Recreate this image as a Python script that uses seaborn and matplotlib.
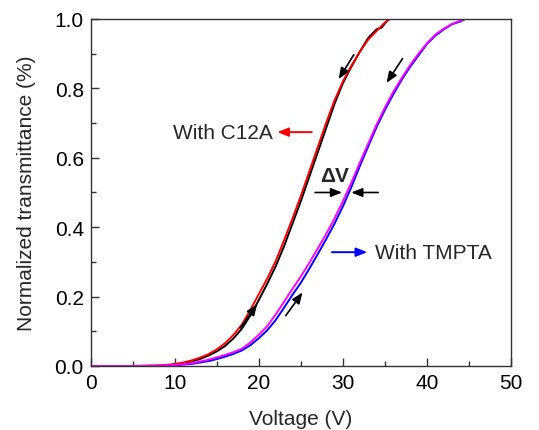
import matplotlib
matplotlib.use("Agg")
import matplotlib.pyplot as plt
import seaborn as sns
import pandas as pd

# ---------------- data ----------------
c12a_up_v = [0, 5, 8, 9, 10, 11, 12, 13, 14, 15, 16, 17, 18, 19, 20, 21, 22, 23, 24, 25,
             26, 27, 28, 29, 30, 31, 32, 33, 34, 34.6, 35.1, 35.5]
c12a_up_t = [0, 0, 0.001, 0.002, 0.004, 0.008, 0.013, 0.02, 0.03, 0.042, 0.058, 0.08, 0.108,
             0.146, 0.19, 0.237, 0.287, 0.345, 0.41, 0.475, 0.545, 0.615, 0.685, 0.755, 0.815,
             0.862, 0.905, 0.945, 0.97, 0.975, 0.99, 1.0]

c12a_dn_v = [0, 5, 8, 9, 10, 11, 12, 13, 14, 15, 16, 17, 18, 19, 20, 21, 22, 23, 24, 25,
             26, 27, 28, 29, 30, 31, 32, 33, 34, 35, 35.6]
c12a_dn_t = [0, 0, 0.001, 0.003, 0.006, 0.01, 0.016, 0.024, 0.034, 0.048, 0.066, 0.09,
             0.12, 0.162, 0.207, 0.252, 0.302, 0.362, 0.425, 0.49, 0.56, 0.63, 0.70, 0.765,
             0.82, 0.865, 0.905, 0.94, 0.965, 0.99, 1.0]

tmpta_up_v = [0, 5, 8, 9, 10, 11, 12, 13, 14, 15, 16, 17, 18, 19, 20, 21, 22, 23, 24, 25,
              26, 27, 28, 29, 30, 31, 32, 33, 34, 35, 36, 37, 38, 39, 40, 41, 42, 43, 44, 44.5]
tmpta_up_t = [0, 0, 0.0, 0.001, 0.002, 0.004, 0.006, 0.01, 0.014, 0.02, 0.027, 0.035, 0.045,
              0.06, 0.08, 0.103, 0.132, 0.168, 0.205, 0.24, 0.28, 0.322, 0.365, 0.41, 0.46,
              0.515, 0.575, 0.632, 0.688, 0.738, 0.783, 0.825, 0.862, 0.895, 0.928, 0.952,
              0.97, 0.985, 0.993, 1.0]

tmpta_dn_v = [0, 5, 8, 9, 10, 11, 12, 13, 14, 15, 16, 17, 18, 19, 20, 21, 22, 23, 24, 25,
              26, 27, 28, 29, 30, 31, 32, 33, 34, 35, 36, 37, 38, 39, 40, 41, 42, 43, 44, 44.5]
tmpta_dn_t = [0, 0, 0.001, 0.002, 0.003, 0.005, 0.008, 0.013, 0.018, 0.025, 0.032, 0.04,
              0.05, 0.068, 0.09, 0.115, 0.148, 0.185, 0.222, 0.258, 0.297, 0.338, 0.38, 0.425,
              0.475, 0.528, 0.585, 0.64, 0.695, 0.745, 0.79, 0.83, 0.867, 0.9, 0.93, 0.955,
              0.972, 0.986, 0.995, 1.0]

x_ticks = [0, 10, 20, 30, 40, 50]
y_ticks = [0.0, 0.2, 0.4, 0.6, 0.8, 1.0]

# ---------------- style ----------------
sns.set_theme(style="white")
plt.rcParams["font.family"] = ["Liberation Sans", "DejaVu Sans"]
FS = 15

fig = plt.figure(figsize=(5.39, 4.31), dpi=100)
ax = fig.add_axes([0.1683, 0.1485, 0.7797, 0.8051])

series = [
    (c12a_up_v, c12a_up_t, "black"),
    (c12a_dn_v, c12a_dn_t, "#ff0000"),
    (tmpta_up_v, tmpta_up_t, "#0000ff"),
    (tmpta_dn_v, tmpta_dn_t, "#ff00ff"),
]
for v, t, col in series:
    df = pd.DataFrame({"V": v, "T": t})
    sns.lineplot(data=df, x="V", y="T", color=col, lw=1.4, ax=ax, sort=False)

ax.set_xlim(0, 50)
ax.set_ylim(0, 1.0)
ax.set_xticks(x_ticks)
ax.set_yticks(y_ticks)
ax.set_xticklabels([str(x) for x in x_ticks], fontsize=FS)
ax.set_yticklabels([f"{y:.1f}" for y in y_ticks], fontsize=FS)
ax.set_xticks([5, 15, 25, 35, 45], minor=True)
ax.set_yticks([0.1, 0.3, 0.5, 0.7, 0.9], minor=True)
ax.tick_params(which="major", direction="in", length=6, width=1, colors="#333333",
               labelcolor="black", bottom=True, left=True, top=False, right=False, pad=5)
ax.tick_params(which="minor", direction="in", length=3.5, width=1, colors="#333333",
               bottom=True, left=True, top=False, right=False)
for s in ax.spines.values():
    s.set_color("#333333")
    s.set_linewidth(1.0)

ax.set_xlabel("Voltage (V)", fontsize=FS, labelpad=12)
ax.set_ylabel("Normalized transmittance (%)", fontsize=FS, labelpad=13)

# ---------------- annotations ----------------
arrow_k = dict(arrowstyle="-|>,head_length=0.55,head_width=0.22", color="black", lw=1.2,
               shrinkA=0, shrinkB=0)
ax.annotate("", xy=(29.5, 0.827), xytext=(31.3, 0.897), arrowprops=arrow_k)
ax.annotate("", xy=(35.2, 0.816), xytext=(37.1, 0.886), arrowprops=arrow_k)
ax.annotate("", xy=(19.8, 0.178), xytext=(17.8, 0.11), arrowprops=arrow_k)
ax.annotate("", xy=(25.2, 0.212), xytext=(23.2, 0.145), arrowprops=arrow_k)

# delta V arrows
ax.annotate("", xy=(29.9, 0.5), xytext=(26.7, 0.5), arrowprops=arrow_k)
ax.annotate("", xy=(31.0, 0.5), xytext=(34.2, 0.5), arrowprops=arrow_k)
ax.text(29.0, 0.548, "\u0394V", fontsize=FS, fontweight="bold", ha="center", va="center")

arrow_r = dict(arrowstyle="-|>,head_length=0.55,head_width=0.22", color="#ff0000", lw=1.4,
               shrinkA=0, shrinkB=0)
ax.annotate("", xy=(22.2, 0.674), xytext=(26.3, 0.674), arrowprops=arrow_r)
ax.text(21.7, 0.674, "With C12A", fontsize=FS, ha="right", va="center")

arrow_b = dict(arrowstyle="-|>,head_length=0.55,head_width=0.22", color="#0000ff", lw=1.4,
               shrinkA=0, shrinkB=0)
ax.annotate("", xy=(32.9, 0.328), xytext=(28.7, 0.328), arrowprops=arrow_b)
ax.text(33.8, 0.326, "With TMPTA", fontsize=FS, ha="left", va="center")

fig.savefig("out.png", dpi=100)
